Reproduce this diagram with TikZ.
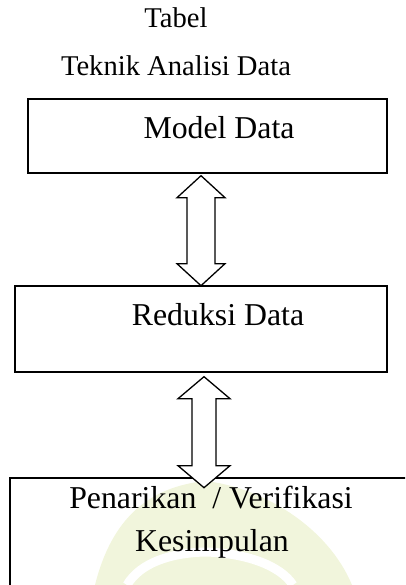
\documentclass[tikz,border=0pt]{standalone}
\usepackage{fontspec}
\setmainfont{Liberation Serif}
\usepackage{tikz}

\definecolor{leafgreen}{RGB}{241,245,220}

\tikzset{
  box/.style = {draw, line width = 1.4pt, inner sep = 0pt},
  blockarrow/.style = {draw, fill = white, line width = 1.3pt, line join = miter},
  txt/.style = {anchor = base, inner sep = 0pt, font = \fontsize{28.6}{34}\selectfont},
  boxtxt/.style = {txt, font = \fontsize{31.8}{38}\selectfont}
}

% up-and-down block arrow hung from its upper tip
% #1 tip, #2 length, #3 head half width, #4 shaft half width, #5 head length
\newcommand{\dblblock}[5]{%
  \draw[blockarrow] (#1) -- +(#3,-#5) -- +(#4,-#5) -- +(#4,{-(#2-#5)})
    -- +(#3,{-(#2-#5)}) -- +(0,-#2) -- +(-#3,{-(#2-#5)}) -- +(-#4,{-(#2-#5)})
    -- +(-#4,-#5) -- +(-#3,-#5) -- cycle;}

\begin{document}
\begin{tikzpicture}[x = 1pt, y = 1pt]
\useasboundingbox (0,0) rectangle (405,585);
\clip (0,0) rectangle (405,585);

% faint leaf behind the last box
\fill[leafgreen] (95,0) .. controls (112,68) and (150,98) .. (205,104)
  .. controls (262,98) and (328,58) .. (352,0) -- cycle;
\draw[white, line width = 9pt] (127,0) .. controls (140,22) and (170,32) .. (205,33)
  .. controls (245,32) and (280,20) .. (293,0);

% title
\node[txt] (tabel) at (176,557) {Tabel};
\node[txt] (judul) at (176,509) {Teknik Analisi Data};

% boxes
\node[box, minimum width = 359pt, minimum height = 74pt] (model) at (207.5,449) {};
\node[box, minimum width = 372pt, minimum height = 86pt] (reduksi) at (201,256) {};
\node[box, minimum width = 410pt, minimum height = 122pt] (simpulan) at (215,46) {};

\node[boxtxt] (modeltxt) at (219,446) {Model Data};
\node[boxtxt] (reduksitxt) at (218,259) {Reduksi Data};
\node[boxtxt] (tarik) at (211,76) {Penarikan\ \ / Verifikasi};
\node[boxtxt] (simpul) at (212,33) {Kesimpulan};

% arrows between the boxes
\coordinate (tipA) at ([xshift=-6.5pt, yshift=-2pt]model.south);
\coordinate (tipB) at ([xshift=3pt, yshift=-4pt]reduksi.south);
\dblblock{tipA}{110}{24}{14}{22}
\dblblock{tipB}{111}{26}{12}{22}
\end{tikzpicture}
\end{document}
